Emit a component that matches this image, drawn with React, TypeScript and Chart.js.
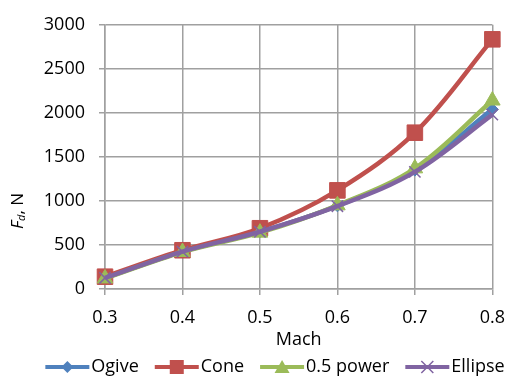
import React, { useEffect, useRef } from 'react';
import { Chart, registerables } from 'chart.js';

Chart.register(...registerables);

// ---- data ----
const machLabels = ['0.3', '0.4', '0.5', '0.6', '0.7', '0.8'];
const ogiveValues = [125, 425, 650, 945, 1350, 2040];
const coneValues = [140, 440, 690, 1120, 1775, 2835];
const powerValues = [120, 420, 640, 950, 1370, 2140];
const ellipseValues = [125, 425, 650, 940, 1330, 1980];
const seriesNames = ['Ogive', 'Cone', '0.5 power', 'Ellipse'];
const yMin = 0;
const yMax = 3000;
const yStep = 500;
const xTitle = 'Mach';

const seriesColors = ['#4F81BD', '#C0504D', '#9BBB59', '#8064A2'];
const markerKinds = ['diamond', 'square', 'triangle', 'cross'];
const FONT = '"Open Sans", sans-serif';
const GRID = '#a0a0a0';

function drawMarker(ctx: CanvasRenderingContext2D, kind: string, color: string, cx: number, cy: number) {
  ctx.fillStyle = color;
  ctx.strokeStyle = color;
  ctx.beginPath();
  if (kind === 'diamond') {
    ctx.moveTo(cx, cy - 6);
    ctx.lineTo(cx + 6, cy);
    ctx.lineTo(cx, cy + 6);
    ctx.lineTo(cx - 6, cy);
    ctx.closePath();
    ctx.fill();
  } else if (kind === 'square') {
    ctx.rect(cx - 7, cy - 7, 14, 14);
    ctx.fill();
  } else if (kind === 'triangle') {
    ctx.moveTo(cx, cy - 7);
    ctx.lineTo(cx + 7.5, cy + 6);
    ctx.lineTo(cx - 7.5, cy + 6);
    ctx.closePath();
    ctx.fill();
  } else {
    ctx.lineWidth = 1.5;
    ctx.moveTo(cx - 6, cy - 6);
    ctx.lineTo(cx + 6, cy + 6);
    ctx.moveTo(cx + 6, cy - 6);
    ctx.lineTo(cx - 6, cy + 6);
    ctx.stroke();
  }
}

const legendPlugin = {
  id: 'lineMarkerLegend',
  afterDraw(chart: any) {
    const ctx = chart.ctx as CanvasRenderingContext2D;
    const lineLen = 44;
    const textGap = 2;
    const itemGap = 16;
    const cy = 367;
    const centerX = 275;
    ctx.save();
    ctx.font = `18px ${FONT}`;
    const widths = seriesNames.map((n) => ctx.measureText(n).width);
    const total =
      widths.reduce((a, b) => a + b, 0) + seriesNames.length * (lineLen + textGap) + (seriesNames.length - 1) * itemGap;
    let x = centerX - total / 2;
    seriesNames.forEach((name, i) => {
      const color = seriesColors[i];
      ctx.strokeStyle = color;
      ctx.lineWidth = 4;
      ctx.beginPath();
      ctx.moveTo(x, cy);
      ctx.lineTo(x + lineLen, cy);
      ctx.stroke();
      drawMarker(ctx, markerKinds[i], color, x + lineLen / 2, cy);
      x += lineLen + textGap;
      ctx.fillStyle = '#000';
      ctx.font = `18px ${FONT}`;
      ctx.textBaseline = 'middle';
      ctx.textAlign = 'left';
      ctx.fillText(name, x, cy);
      x += widths[i] + itemGap;
    });
    ctx.restore();
  },
};

const yTitlePlugin = {
  id: 'yTitleFd',
  afterDraw(chart: any) {
    const ctx = chart.ctx as CanvasRenderingContext2D;
    ctx.save();
    ctx.translate(18, 211);
    ctx.rotate(-Math.PI / 2);
    ctx.fillStyle = '#000';
    ctx.textBaseline = 'middle';
    ctx.textAlign = 'left';
    const fMain = `italic 17px ${FONT}`;
    const fSub = `italic 11px ${FONT}`;
    const fRest = `17px ${FONT}`;
    ctx.font = fMain;
    const wF = ctx.measureText('F').width;
    ctx.font = fSub;
    const wd = ctx.measureText('d').width;
    ctx.font = fRest;
    const wr = ctx.measureText(', N').width;
    const total = wF + wd + wr;
    let x = -total / 2;
    ctx.font = fMain;
    ctx.fillText('F', x, 0);
    x += wF;
    ctx.font = fSub;
    ctx.fillText('d', x, 4);
    x += wd;
    ctx.font = fRest;
    ctx.fillText(', N', x, 0);
    ctx.restore();
  },
};

export default function App() {
  const ref = useRef<HTMLCanvasElement>(null);
  useEffect(() => {
    const prevMargin = document.body.style.margin;
    document.body.style.margin = '0';
    const values = [ogiveValues, coneValues, powerValues, ellipseValues];
    const pointStyles = ['rectRot', 'rect', 'triangle', 'crossRot'];
    const pointRadii = [6, 11, 9, 8];
    const orders = [3, 2, 1, 0];
    const datasets = values.map((v, i) => ({
      label: seriesNames[i],
      data: v,
      borderColor: seriesColors[i],
      backgroundColor: seriesColors[i],
      borderWidth: 4.5,
      tension: 0.35,
      pointStyle: pointStyles[i],
      pointRadius: pointRadii[i],
      pointBorderWidth: i === 3 ? 1.5 : 1,
      pointBorderColor: seriesColors[i],
      pointBackgroundColor: seriesColors[i],
      order: orders[i],
      fill: false,
    }));
    const chart = new Chart(ref.current!, {
      type: 'line',
      data: { labels: machLabels, datasets },
      plugins: [yTitlePlugin, legendPlugin],
      options: {
        animation: false,
        responsive: false,
        layout: { padding: { left: 0, right: 19, top: 17, bottom: 0 } },
        plugins: {
          tooltip: { enabled: false },
          legend: { display: false },
        },
        scales: {
          x: {
            type: 'category',
            offset: false,
            grid: { color: GRID, lineWidth: 1.5, tickLength: 6, drawTicks: true },
            border: { color: GRID, width: 1.5 },
            ticks: { color: '#000', font: { family: FONT, size: 18 }, padding: 12, maxRotation: 0 },
            title: {
              display: true,
              text: xTitle,
              color: '#000',
              font: { family: FONT, size: 18 },
              padding: { top: 0, bottom: 28 },
            },
            afterFit: (s: any) => {
              s.height = 90;
            },
          },
          y: {
            min: yMin,
            max: yMax,
            grid: { color: GRID, lineWidth: 1.5, tickLength: 6, drawTicks: true },
            border: { color: GRID, width: 1.5 },
            ticks: {
              stepSize: yStep,
              color: '#000',
              font: { family: FONT, size: 18 },
              padding: 14,
              callback: (v: any) => String(v),
            },
            afterFit: (s: any) => {
              s.width = 105;
            },
          },
        },
      },
    } as any);
    return () => {
      chart.destroy();
      document.body.style.margin = prevMargin;
    };
  }, []);
  return (
    <div style={{ position: 'absolute', left: 0, top: 0, width: 517, height: 379 }}>
      <canvas ref={ref} width={517} height={379} style={{ display: 'block' }} />
    </div>
  );
}
